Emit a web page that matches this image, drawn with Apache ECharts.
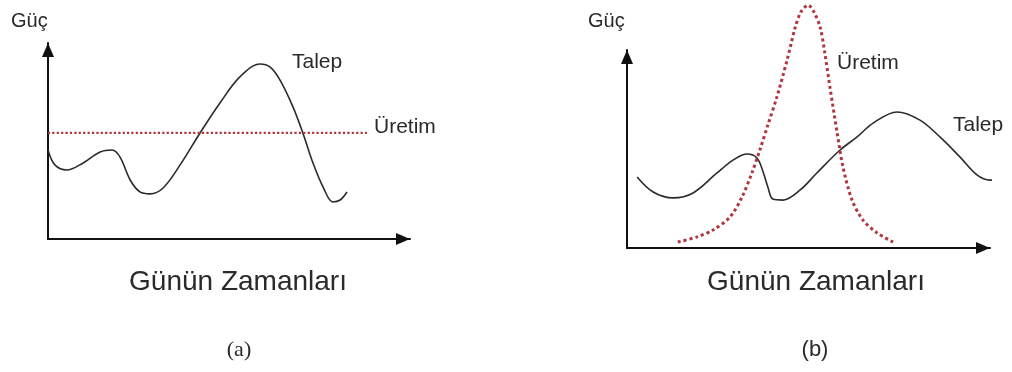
<!DOCTYPE html>
<html>
<head>
<meta charset="utf-8">
<script src="https://cdn.jsdelivr.net/npm/echarts@6/dist/echarts.min.js"></script>
<style>
  html, body { margin: 0; padding: 0; background: #fff; }
  #chart { width: 1012px; height: 372px; }
</style>
</head>
<body>
<div id="chart"></div>
<script>
// Panel (a): demand over the day vs. constant generation
const talepA = [
  [0, 45.4], [1.9, 37.8], [5.2, 35.2], [9.7, 38.8], [14.4, 44.4], [17.7, 45.4],
  [19.9, 41.8], [22.7, 30.1], [25.4, 24.0], [28.2, 23.0], [31.8, 26.0], [36.5, 37.8],
  [42.0, 54.1], [47.5, 69.4], [53.0, 82.7], [58.6, 89.3], [61.3, 87.8], [64.1, 81.1],
  [67.7, 67.3], [70.4, 54.1], [73.2, 38.8], [76.0, 26.5], [78.7, 18.9], [80.7, 19.9],
  [82.6, 24.0]
];
const uretimA = [[0, 54.1], [88.1, 54.1]];

// Panel (b): demand over the day vs. peaked generation
const talepB = [
  [2.8, 35.9], [7.2, 28.3], [12.7, 25.3], [18.2, 27.8], [24.8, 37.9], [29.2, 44.4],
  [33.1, 47.5], [35.8, 45.5], [37.5, 38.4], [38.8, 30.8], [40.2, 24.7], [43.0, 24.2],
  [47.7, 29.3], [52.3, 37.9], [58.7, 49.5], [63.4, 56.1], [67.8, 63.1], [74.4, 68.7],
  [80.7, 64.6], [86.2, 56.1], [91.7, 46.0], [96.4, 36.9], [100, 34.3], [102.8, 35.9]
];
const uretimB = [
  [14.0, 3.0], [19.3, 5.6], [23.7, 9.1], [28.4, 15.7], [31.7, 25.8], [34.4, 37.9],
  [36.6, 49.5], [38.8, 62.1], [41.3, 76.3], [44.1, 94.9], [46.3, 111.1], [47.9, 119.2],
  [49.9, 122.7], [51.5, 119.2], [53.2, 111.6], [54.5, 98.5], [55.9, 81.3], [57.9, 58.1],
  [59.5, 40.9], [62.0, 24.2], [65.0, 14.1], [68.9, 7.6], [73.3, 3.0]
];

const SANS = '"Liberation Sans", Arial, sans-serif';
const TEXT = '#2a2a2a';
const DEMAND = '#2b2b2b';
const SUPPLY = '#b0353d';

function axis(gridIndex) {
  return {
    type: 'value', gridIndex: gridIndex, min: 0, max: 100,
    axisLine: {
      show: true, onZero: false,
      lineStyle: { color: '#111', width: 2 },
      symbol: ['none', 'triangle'], symbolSize: [12, 14], symbolOffset: [0, -7]
    },
    axisTick: { show: false }, axisLabel: { show: false }, splitLine: { show: false }
  };
}

function curve(name, idx, data, color, width, dash) {
  return {
    name: name, type: 'line', xAxisIndex: idx, yAxisIndex: idx, data: data,
    symbol: 'none', smooth: dash ? 0.3 : 0.35, clip: false, silent: true,
    lineStyle: { color: color, width: width, type: dash || 'solid', cap: 'butt' },
    z: dash ? 3 : 2
  };
}

function label(text, x, y, size, opts) {
  return {
    type: 'text', x: x, y: y, silent: true,
    style: Object.assign({
      text: text, font: size + 'px ' + SANS, fill: TEXT,
      textAlign: 'left', textVerticalAlign: 'middle'
    }, opts || {})
  };
}

const chart = echarts.init(document.getElementById('chart'), null, { renderer: 'canvas' });
chart.setOption({
  animation: false,
  backgroundColor: '#fff',
  grid: [
    { left: 48, top: 43, width: 362, height: 196 },
    { left: 627, top: 50, width: 363, height: 198 }
  ],
  xAxis: [axis(0), axis(1)],
  yAxis: [axis(0), axis(1)],
  series: [
    curve('Talep', 0, talepA, DEMAND, 1.6),
    curve('Üretim', 0, uretimA, SUPPLY, 2.2, [2.2, 2.2]),
    curve('Talep', 1, talepB, DEMAND, 1.6),
    curve('Üretim', 1, uretimB, SUPPLY, 3, [3, 3])
  ],
  graphic: [
    label('Güç', 11, 21, 20),
    label('Güç', 588, 21, 20),
    label('Talep', 292, 62, 21),
    label('Üretim', 374, 127, 21),
    label('Üretim', 837, 63, 21),
    label('Talep', 953, 125, 21),
    label('Günün Zamanları', 238, 282, 28, { textAlign: 'center' }),
    label('Günün Zamanları', 816, 282, 28, { textAlign: 'center' }),
    label('(a)', 239, 350, 22, { textAlign: 'center', font: '22px "Liberation Serif", "Times New Roman", serif' }),
    label('(b)', 815, 350, 22, { textAlign: 'center' })
  ]
});
</script>
</body>
</html>
